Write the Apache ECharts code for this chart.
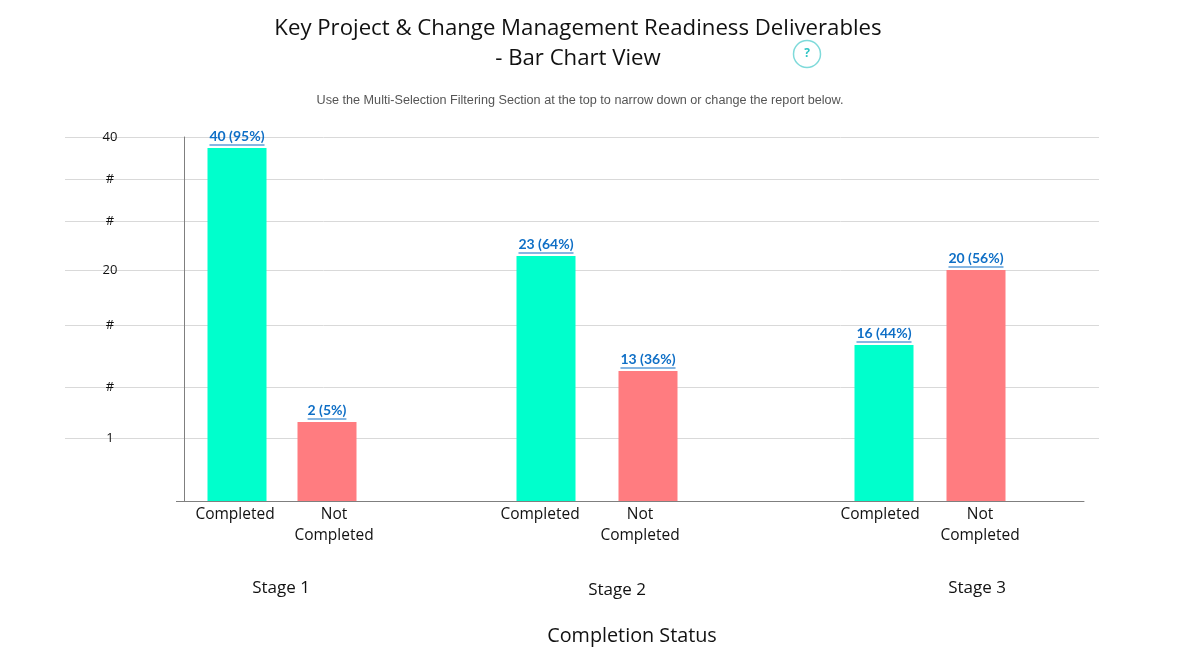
<!DOCTYPE html>
<html>
<head>
<meta charset="utf-8">
<script src="https://cdn.jsdelivr.net/npm/echarts@6/dist/echarts.min.js"></script>
<style>
  html, body { margin: 0; padding: 0; background: #fff; }
  #root { width: 1200px; height: 654px; }
</style>
</head>
<body>
<div id="root"></div>
<script>
const stages = ['Stage 1', 'Stage 2', 'Stage 3']
const statuses = ['Completed', 'Not\nCompleted']
const completed = [40, 23, 16]
const notCompleted = [2, 13, 20]
const completedPct = [95, 64, 44]
const notCompletedPct = [5, 36, 56]
const tickValues = [1, 9.5, 17.05, 20, 28.5, 35.1, 41.7] // hidden "#" ticks are estimates
const tickLabels = ['1', '#', '#', '20', '#', '#', '40']

// the reference axis is not linear, so counts go through this piecewise scale
const scaleCounts = [0, 1, 2, 13, 16, 20, 23, 40, 41.7]
const scaleHeights = [0, 63, 79, 130, 156, 231, 245, 353, 364]
const axisTop = 364

const toAxis = (v) => {
  let i = 1
  while (i < scaleCounts.length - 1 && v > scaleCounts[i]) i++
  const t = (v - scaleCounts[i - 1]) / (scaleCounts[i] - scaleCounts[i - 1])
  return scaleHeights[i - 1] + t * (scaleHeights[i] - scaleHeights[i - 1])
}
const tickPositions = tickValues.map(toAxis)

const textFont = '"Open Sans", sans-serif'
const plotTop = 137
const plotHeight = 501 - 137

// one small grid per stage, the groups are not evenly spaced in the reference
const stageGrids = [
  { left: 192, width: 180, pad: [[0, 4, 0, 0], [0, 0, 0, 14]] },
  { left: 495, width: 204, pad: [[0, 12, 0, 0], [0, 16, 0, 0]] },
  { left: 838, width: 184, pad: [[0, 8, 0, 0], [0, 0, 0, 8]] }
]

const grids = [
  { left: 65, top: plotTop, width: 1034, height: plotHeight },
  { left: 184, top: plotTop, width: 900, height: plotHeight }
]
const xAxes = [
  { gridIndex: 0, type: 'category', data: [''], show: false },
  {
    gridIndex: 1, type: 'category', data: [''],
    axisLine: { show: true, lineStyle: { color: '#7f7f7f', width: 1 } },
    axisTick: { show: false }, axisLabel: { show: false }
  }
]
const yAxes = [
  {
    gridIndex: 0, type: 'value', min: 0, max: axisTop,
    axisLine: { show: false },
    axisTick: { show: false, customValues: tickPositions },
    splitLine: { show: true, lineStyle: { color: '#d9d9d9', width: 1 } },
    axisLabel: {
      inside: true, margin: 45, align: 'center', color: '#111', fontSize: 13,
      fontFamily: textFont, customValues: tickPositions,
      formatter: (v) => tickLabels[tickPositions.indexOf(v)]
    }
  },
  {
    gridIndex: 1, type: 'value', min: 0, max: axisTop,
    axisLine: { show: true, lineStyle: { color: '#7f7f7f', width: 1 } },
    axisTick: { show: true, length: 8, customValues: [0], lineStyle: { color: '#7f7f7f' } },
    axisLabel: { show: false }, splitLine: { show: false }
  }
]

// the underline is the same text, see-through, on a 1px background
const barLabel = (params) => {
  const i = params.data.stage
  const count = params.dataIndex === 0 ? completed[i] : notCompleted[i]
  const pct = params.dataIndex === 0 ? completedPct[i] : notCompletedPct[i]
  const text = count + ' (' + pct + '%)'
  return '{t|' + text + '}\n{u|' + text + '}'
}
const labelFont = { fontSize: 14, fontWeight: 'bold', fontFamily: 'Lato, sans-serif' }

const series = stages.map((s, i) => {
  const grid = stageGrids[i]
  grids.push({ left: grid.left, top: plotTop, width: grid.width, height: plotHeight })
  xAxes.push({
    gridIndex: i + 2, type: 'category',
    data: statuses.map((name, k) => ({ value: name, textStyle: { padding: grid.pad[k] } })),
    axisLine: { show: false }, axisTick: { show: false },
    axisLabel: { interval: 0, margin: 3, color: '#111', fontSize: 15.5, lineHeight: 21, fontFamily: textFont }
  })
  yAxes.push({ gridIndex: i + 2, type: 'value', min: 0, max: axisTop, show: false, splitLine: { show: false } })
  return {
    name: s, type: 'bar', xAxisIndex: i + 2, yAxisIndex: i + 2, barWidth: 59,
    data: [
      { value: toAxis(completed[i]), stage: i, itemStyle: { color: '#00ffcc' } },
      { value: toAxis(notCompleted[i]), stage: i, itemStyle: { color: '#ff7c80' } }
    ],
    label: {
      show: true, position: 'top', distance: 2, formatter: barLabel,
      rich: {
        t: { ...labelFont, color: '#0f6fc6', lineHeight: 15 },
        u: { ...labelFont, color: 'transparent', height: 1, lineHeight: 2, backgroundColor: '#0f6fc6' }
      }
    }
  }
})

const centered = (text, left, top, fontSize, family, color) => ({
  text, left, top, textAlign: 'center', padding: 0,
  textStyle: { fontSize, fontFamily: family || textFont, fontWeight: 'normal', color: color || '#111' }
})

const option = {
  animation: false,
  title: [
    centered('Key Project & Change Management Readiness Deliverables', 578, 18, 22.2),
    centered('- Bar Chart View', 578, 48, 22.2),
    centered('Use the Multi-Selection Filtering Section at the top to narrow down or change the report below.',
      580, 94, 12.65, '"Liberation Sans", Arial, sans-serif', '#555'),
    centered(stages[0], 281, 580, 17),
    centered(stages[1], 617, 582, 17),
    centered(stages[2], 977, 580, 17),
    centered('Completion Status', 632, 626, 19.8)
  ],
  grid: grids,
  xAxis: xAxes,
  yAxis: yAxes,
  series,
  graphic: [
    {
      type: 'circle', shape: { cx: 807, cy: 54, r: 13.5 },
      style: { fill: '#fff', stroke: '#7fdada', lineWidth: 1.5 }
    },
    {
      type: 'text', x: 807, y: 54,
      style: { text: '?', fill: '#2fc4c4', fontSize: 12, fontWeight: 'bold', fontFamily: textFont, align: 'center', verticalAlign: 'middle' }
    }
  ]
}

const chart = echarts.init(document.getElementById('root'))
chart.setOption(option)
</script>
</body>
</html>
